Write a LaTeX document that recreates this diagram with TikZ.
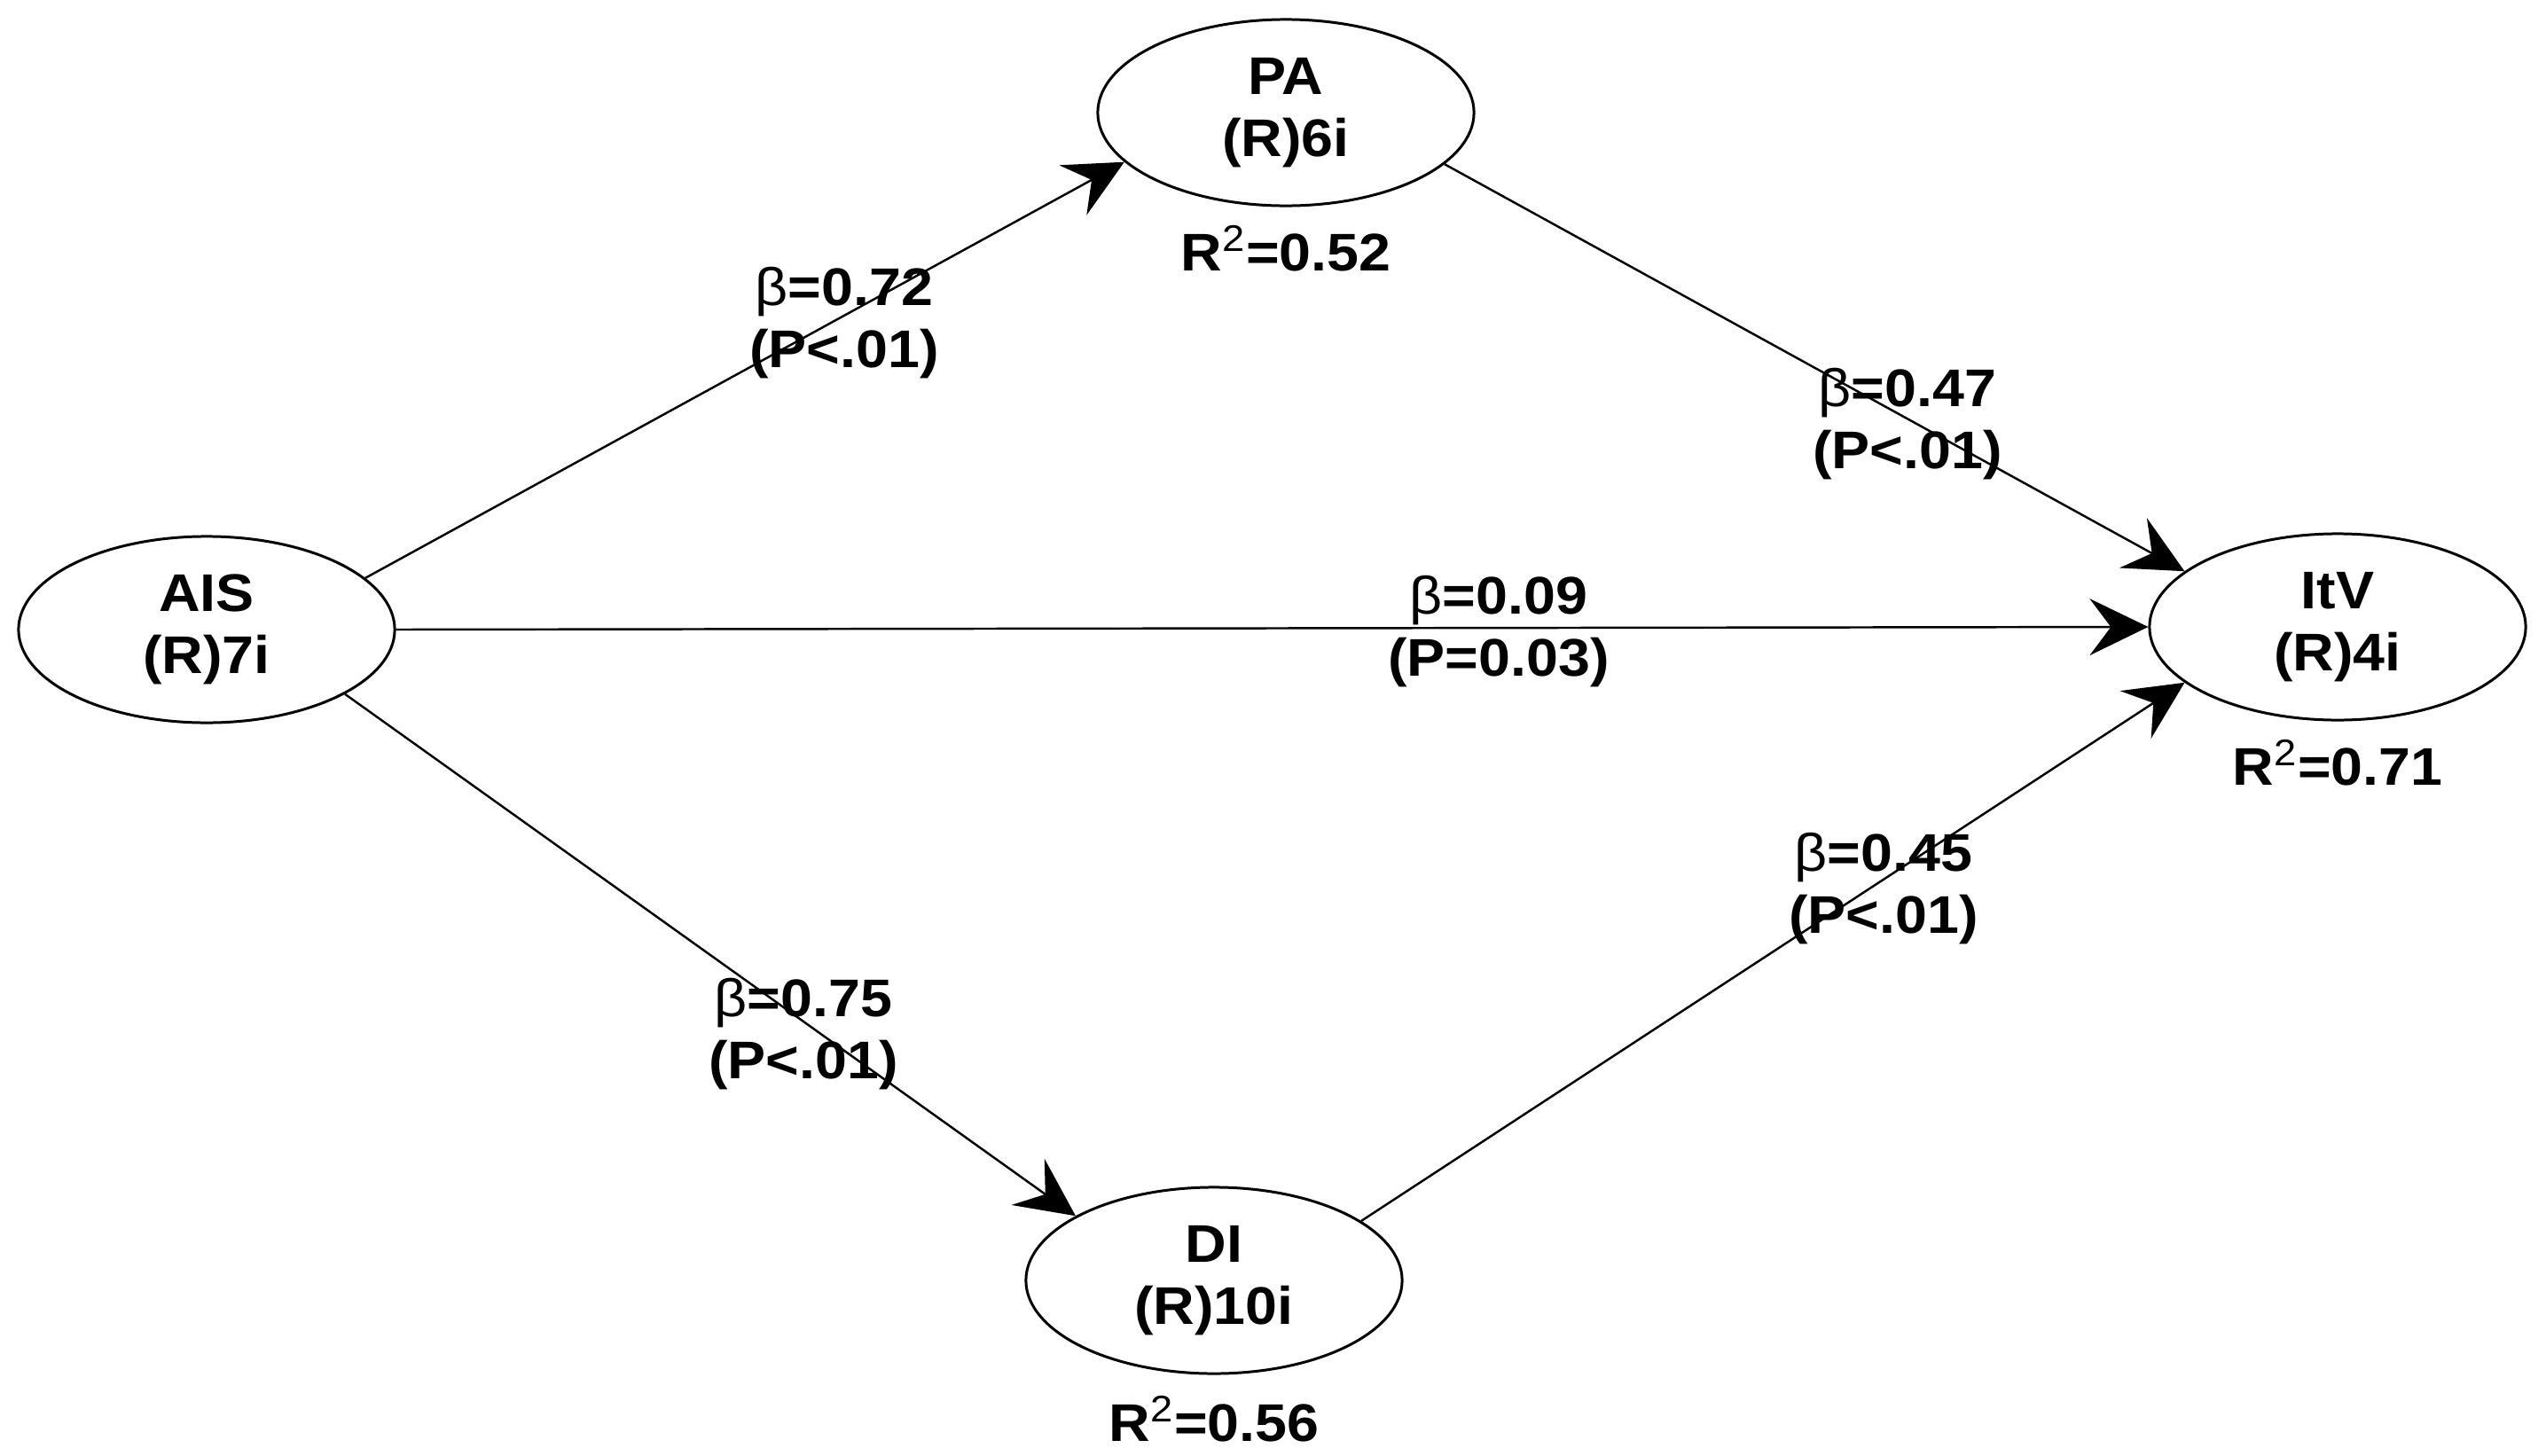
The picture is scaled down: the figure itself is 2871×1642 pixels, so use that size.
\documentclass[tikz,border=0pt]{standalone}
\usepackage{fontspec}
\setmainfont{Liberation Sans}[FakeStretch=1.08]
\usetikzlibrary{shapes.geometric, arrows.meta}
\newcommand\myfont{\fontsize{17}{19.9}\selectfont\bfseries}
\newcommand\bt{{\mdseries β}}
\tikzset{
  lat/.style={ellipse, draw, line width=0.85pt, minimum width=4.24cm, minimum height=2.10cm, inner sep=0pt, align=center, font=\myfont},
  lab/.style={align=center, font=\myfont, inner sep=0pt},
  conn/.style={line width=0.7pt, -{Stealth[length=0.66cm, width=0.64cm, inset=0.24cm]}},
}
\begin{document}
\begin{tikzpicture}[x=0.01cm, y=-0.01cm]
\useasboundingbox[fill=white] (0,0) rectangle (2871,1642);
\node[lat] (AIS) at (233,710) {AIS\\(R)7i};
\node[lat] (PA) at (1450,127) {PA\\(R)6i};
\node[lat] (ItV) at (2636,707) {ItV\\(R)4i};
\node[lat] (DI) at (1369,1444) {DI\\(R)10i};
\node[lab] (rPA) at (1450,280) {R\textsuperscript{\mdseries 2}=0.52};
\node[lab] (rItV) at (2636,860) {R\textsuperscript{\mdseries 2}=0.71};
\node[lab] (rDI) at (1369,1600) {R\textsuperscript{\mdseries 2}=0.56};
\draw[conn] (AIS.18.7) -- (PA.197);
\draw[conn] (PA.342) -- (ItV.160);
\draw[conn] (AIS.0) -- (ItV.180);
\draw[conn] (AIS.-25) -- (DI.155);
\draw[conn] (DI.22) -- (ItV.200);
\node[lab] (l1) at (952,364) {\bt=0.72\\(P<.01)};
\node[lab] (l2) at (2151,478) {\bt=0.47\\(P<.01)};
\node[lab] (l3) at (1690,712) {\bt=0.09\\(P=0.03)};
\node[lab] (l4) at (906,1166) {\bt=0.75\\(P<.01)};
\node[lab] (l5) at (2124,1002) {\bt=0.45\\(P<.01)};
\end{tikzpicture}
\end{document}
